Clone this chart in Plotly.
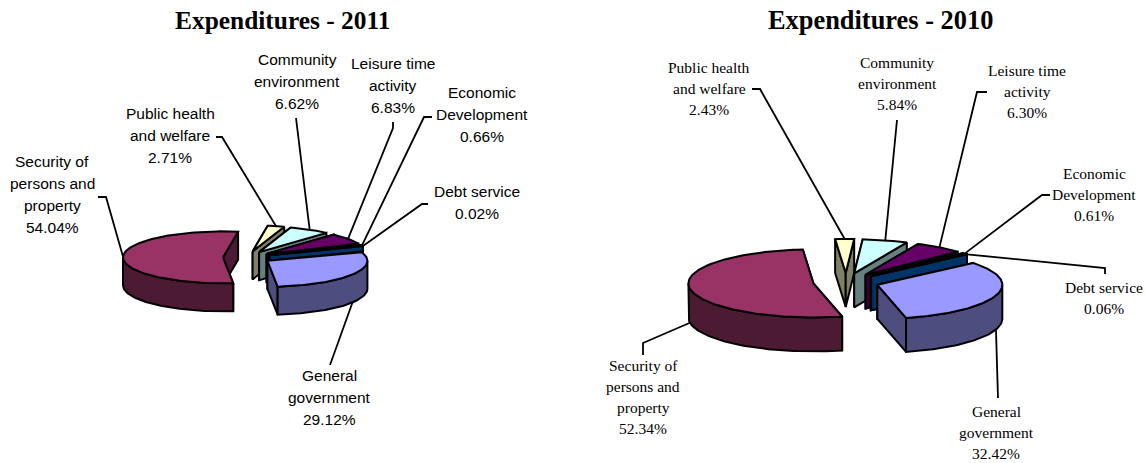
import math
import plotly.graph_objects as go

# Budget categories, in pie order (clockwise from the first slice)
CATEGORIES = [
    "General government",
    "Security of persons and property",
    "Public health and welfare",
    "Community environment",
    "Leisure time activity",
    "Economic Development",
    "Debt service",
]
VALUES_2011 = [29.12, 54.04, 2.71, 6.62, 6.83, 0.66, 0.02]
VALUES_2010 = [32.42, 52.34, 2.43, 5.84, 6.30, 0.61, 0.06]

LABEL_LINES = [
    ["General", "government"],
    ["Security of", "persons and", "property"],
    ["Public health", "and welfare"],
    ["Community", "environment"],
    ["Leisure time", "activity"],
    ["Economic", "Development"],
    ["Debt service"],
]

TOP_COLORS = ["#9999FF", "#993366", "#FFFFCC", "#CCFFFF", "#660066", "#FF8080", "#0066CC"]
SIDE_COLORS = ["#4D4D80", "#4D1A33", "#808066", "#668080", "#330033", "#804040", "#003366"]

# Slices furthest from the viewer are painted first
PAINT_ORDER = [2, 3, 4, 5, 6, 0, 1]

LAYOUT_2011 = dict(
    title="Expenditures - 2011", title_x=282, title_size=25.4,
    font="Liberation Sans", size=15.5, gap=22,
    cx=247, cy=257.5, rx=100, ry=26, depth=28, explode=24, start=69.3,
    label_pos=[(329, 375), (52, 161), (170, 113), (297, 59), (393, 63), (482, 92), (477, 191)],
    elbows=[
        [(330, 365)],
        [(106, 197), (98, 197)],
        [(222, 137), (216, 137)],
        [(296, 118)],
        [(393, 128), (393, 122)],
        [(424, 117), (432, 117)],
        [(422, 204), (428, 204)],
    ],
)
LAYOUT_2010 = dict(
    title="Expenditures - 2010", title_x=880, title_size=26.4,
    font="Liberation Serif", size=15.5, gap=21.3,
    cx=846, cy=282, rx=125, ry=34, depth=34, explode=33, start=50.0,
    label_pos=[(996, 411), (643, 365), (709, 67), (897, 62), (1027, 70), (1094, 173), (1104, 287)],
    elbows=[
        [(998, 398)],
        [(643, 343), (643, 355)],
        [(760, 89), (752, 89)],
        [(897, 120)],
        [(977, 92), (987, 92)],
        [(1042, 195), (1050, 195)],
        [(1105, 268), (1105, 274)],
    ],
)


def add_polygon(fig, pts, color):
    fig.add_trace(go.Scatter(
        x=[p[0] for p in pts] + [pts[0][0]],
        y=[p[1] for p in pts] + [pts[0][1]],
        mode="lines", fill="toself", fillcolor=color,
        line=dict(color="black", width=2),
        hoverinfo="skip", showlegend=False,
    ))


def add_pie(fig, values, cfg):
    rx, ry, depth = cfg["rx"], cfg["ry"], cfg["depth"]
    total = sum(values)

    # Angles run clockwise from twelve o'clock, in degrees
    spans = []
    angle = cfg["start"]
    for v in values:
        spans.append((angle, angle + v / total * 360))
        angle = spans[-1][1]

    def apex(i):
        mid = math.radians(sum(spans[i]) / 2)
        return (cfg["cx"] + cfg["explode"] * math.sin(mid),
                cfg["cy"] - cfg["explode"] * math.cos(mid) * ry / rx)

    def rim(i, deg):
        ax, ay = apex(i)
        t = math.radians(deg)
        return (ax + rx * math.sin(t), ay - ry * math.cos(t))

    def drop(p):
        return (p[0], p[1] + depth)

    def arc(i, a0, a1):
        n = max(2, int(abs(a1 - a0) / 1.5) + 2)
        return [rim(i, a0 + (a1 - a0) * k / (n - 1)) for k in range(n)]

    for i in PAINT_ORDER:
        a0, a1 = spans[i]
        center = apex(i)
        # Radial cut faces
        for edge in (a0, a1):
            p = rim(i, edge)
            add_polygon(fig, [center, p, drop(p), drop(center)], SIDE_COLORS[i])
        # Curved outer wall: only the part facing the viewer (90 to 270 degrees)
        for shift in (0, 360):
            lo, hi = max(a0, 90 + shift), min(a1, 270 + shift)
            if hi > lo:
                curve = arc(i, lo, hi)
                add_polygon(fig, curve + [drop(p) for p in reversed(curve)], SIDE_COLORS[i])
        # Top face
        add_polygon(fig, [center] + arc(i, a0, a1), TOP_COLORS[i])

    # Leader lines and labels
    for i, lines in enumerate(LABEL_LINES):
        mid = sum(spans[i]) / 2
        anchor = rim(i, mid)
        if 90 < mid % 360 < 270:
            anchor = drop(anchor)
        path = [anchor] + cfg["elbows"][i]
        fig.add_trace(go.Scatter(
            x=[p[0] for p in path], y=[p[1] for p in path], mode="lines",
            line=dict(color="black", width=1.8), hoverinfo="skip", showlegend=False,
        ))
        lx, ly = cfg["label_pos"][i]
        for k, text in enumerate(lines + [f"{values[i]:.2f}%"]):
            fig.add_annotation(
                x=lx, y=ly + k * cfg["gap"], text=text, showarrow=False,
                xanchor="center", yanchor="middle",
                font=dict(family=cfg["font"], size=cfg["size"], color="black"),
            )

    fig.add_annotation(
        x=cfg["title_x"], y=20, text=f"<b>{cfg['title']}</b>", showarrow=False,
        xanchor="center", yanchor="middle",
        font=dict(family="Liberation Serif", size=cfg["title_size"], color="black"),
    )


fig = go.Figure()
add_pie(fig, VALUES_2011, LAYOUT_2011)
add_pie(fig, VALUES_2010, LAYOUT_2010)
fig.update_layout(
    width=1145, height=463, margin=dict(l=0, r=0, t=0, b=0),
    paper_bgcolor="white", plot_bgcolor="white",
    xaxis=dict(range=[0, 1145], visible=False, fixedrange=True),
    yaxis=dict(range=[463, 0], visible=False, fixedrange=True),
)
fig.write_html("out.html")
